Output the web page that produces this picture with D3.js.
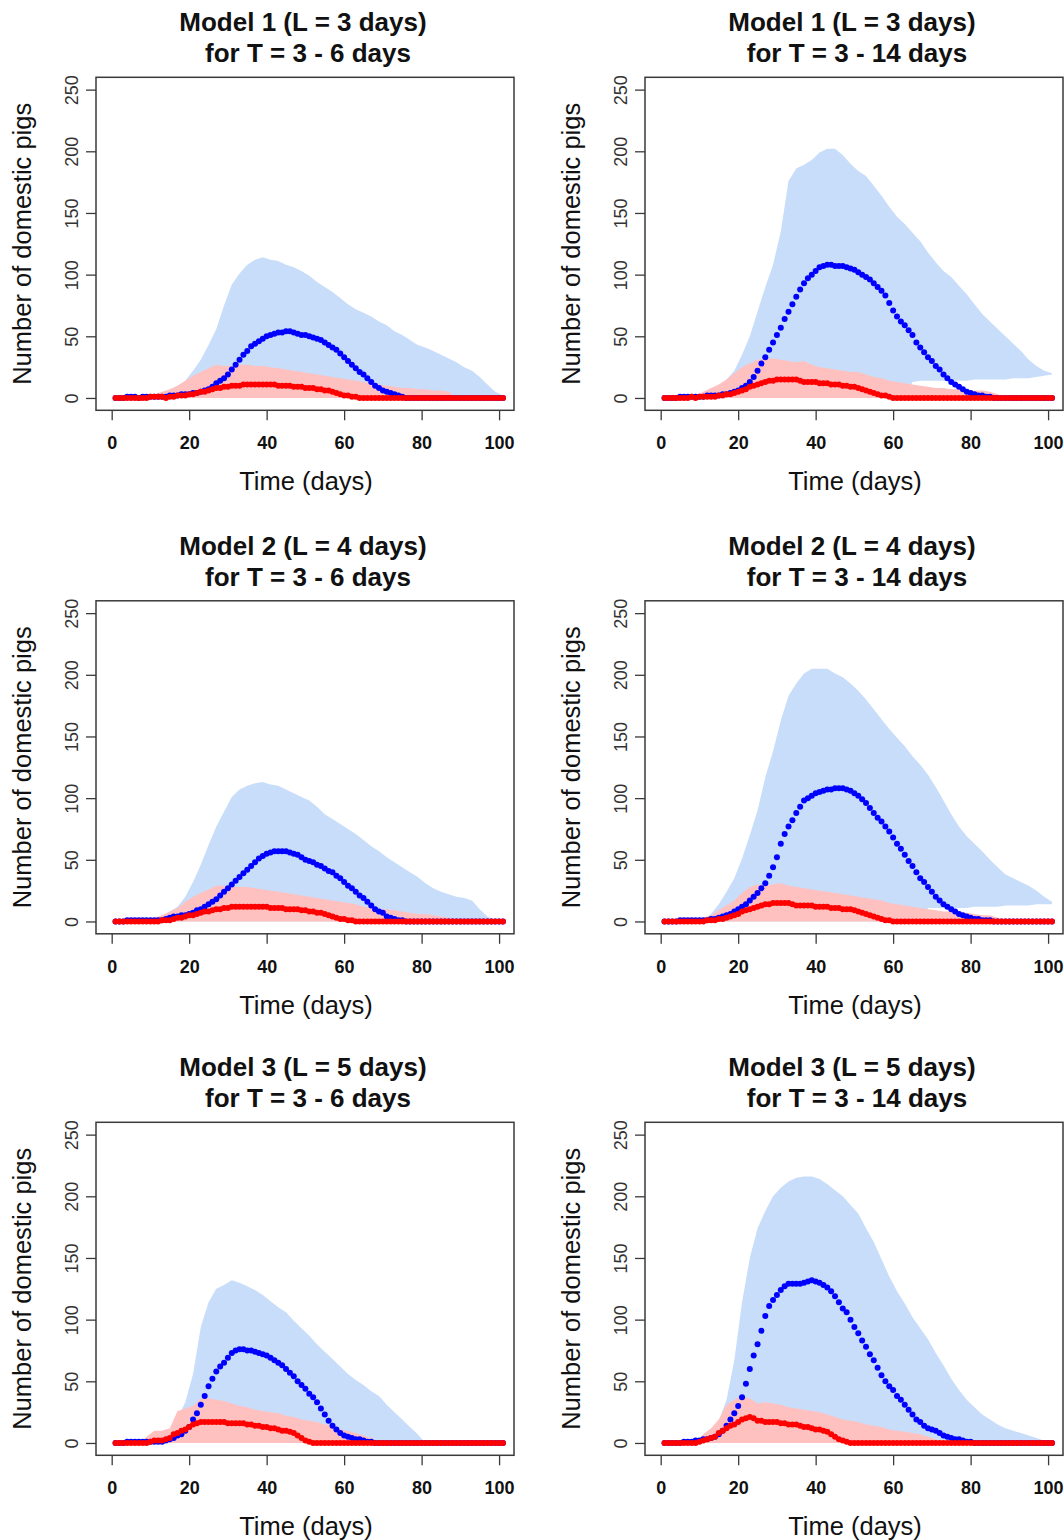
<!DOCTYPE html>
<html>
<head>
<meta charset="utf-8">
<script src="https://cdn.jsdelivr.net/npm/d3@7"></script>
<style>
  body { margin: 0; background: #fff; }
  svg { display: block; font-family: "Liberation Sans", Arial, sans-serif; }
</style>
</head>
<body>
<svg id="chart"></svg>
<script>
// one point per day, bands read every second day
const days = d3.range(1, 102);
const bandDays = d3.range(1, 102, 2);
const xTicks = [0, 20, 40, 60, 80, 100];
const yTicks = [0, 50, 100, 150, 200, 250];

const titles = [
  ["Model 1 (L = 3 days)", "for T = 3 - 6 days"],
  ["Model 1 (L = 3 days)", "for T = 3 - 14 days"],
  ["Model 2 (L = 4 days)", "for T = 3 - 6 days"],
  ["Model 2 (L = 4 days)", "for T = 3 - 14 days"],
  ["Model 3 (L = 5 days)", "for T = 3 - 6 days"],
  ["Model 3 (L = 5 days)", "for T = 3 - 14 days"]
];

// Model 1, T = 3 - 6
const blueMedian1 = [
  0,0,0,1,1,1,0,1,1,1, 1,1,1,1,2,2,2,3,3,3, 4,4,5,6,7,9,12,14,16,19,
  23,27,31,35,38,42,44,46,48,50, 51,52,53,53,54,54,53,52,51,51,
  50,49,48,47,45,43,41,39,36,33, 30,27,24,21,19,16,13,10,8,6,
  5,4,3,2,1,0,0,0,0,0, 0,0,0,0,0,0,0,0,0,0, 0,0,0,0,0,0,0,0,0,0, 0];
const redMedian1 = [
  0,0,0,0,0,0,0,0,0,1, 1,1,1,0,1,1,2,2,2,3, 3,4,5,5,6,7,8,8,9,9,
  10,10,10,11,11,11,11,11,11,11, 11,11,10,10,10,10,9,9,9,8,
  8,8,7,7,6,6,5,4,3,2, 2,1,1,0,0,0,0,0,0,0,
  0,0,0,0,0,0,0,0,0,0, 0,0,0,0,0,0,0,0,0,0, 0,0,0,0,0,0,0,0,0,0, 0];
const blueUpper1 = [
  0,0,0,0,0,0,3,6,10,14, 22,31,43,56,75,92,101,108,112,114,
  112,111,108,106,103,99,94,90,86,81, 76,72,69,66,62,59,54,51,47,43,
  41,38,35,32,29,25,22,17,11,5, 2];
const redUpper1 = [
  0,0,0,0,2,3,5,7,10,14, 18,21,24,27,26,26,27,27,26,26,
  25,24,23,22,21,20,19,18,17,16, 15,14,13,12,11,10,9,8,8,7,
  7,6,6,5,0,0,0,0,0,0, 0];

// Model 1, T = 3 - 14
const blueMedian2 = [
  0,0,0,0,1,1,1,1,1,1, 1,2,2,2,2,3,3,4,5,6, 8,10,13,17,22,28,33,39,45,51,
  57,64,70,76,82,88,93,97,100,103, 106,107,108,108,107,107,107,106,105,104,
  102,100,98,96,93,90,87,83,77,71, 66,62,59,55,51,45,41,37,33,30,
  26,23,19,16,13,11,9,7,5,4, 3,2,2,1,1,0,0,0,0,0, 0,0,0,0,0,0,0,0,0,0, 0];
const redMedian2 = [
  0,0,0,0,0,0,0,1,0,1, 1,1,1,1,2,2,3,3,4,5, 6,7,9,10,11,12,13,14,14,15,
  15,15,15,15,15,14,13,13,13,13, 12,12,12,11,11,11,10,10,9,9,
  8,7,6,5,4,3,2,2,1,0, 0,0,0,0,0,0,0,0,0,0,
  0,0,0,0,0,0,0,0,0,0, 0,0,0,0,0,0,0,0,0,0, 0,0,0,0,0,0,0,0,0,0, 0];
const blueUpper2 = [
  0,0,0,0,1,3,6,8,15,22, 35,50,70,90,108,135,176,186,189,193,
  199,202,202,197,190,184,180,172,164,155, 147,141,134,127,118,110,103,98,91,84,
  76,68,62,56,50,44,38,31,26,22, 20];
const blueLower2 = [
  0,0,0,0,0,0,0,0,0,0, 0,0,0,0,0,0,0,0,0,0, 0,0,0,0,0,0,0,0,0,0,
  0,0,13,14,14,14,14,14,14,14, 15,15,15,15,15,16,16,16,17,18, 19];
const redUpper2 = [
  0,0,0,0,2,5,8,11,15,20, 25,28,31,32,32,31,30,29,30,27,
  25,24,23,22,21,21,19,17,16,14, 13,12,11,10,9,8,8,7,7,6,
  6,6,5,3,0,0,0,0,0,0, 0];

// Model 2, T = 3 - 6
const blueMedian3 = [
  0,0,0,1,1,1,1,1,1,1, 1,1,1,2,3,4,4,5,5,6, 7,9,10,12,14,16,18,21,24,27,
  30,33,36,39,42,45,48,51,53,55, 56,57,57,57,57,56,55,54,52,50,
  49,48,46,45,43,41,40,37,35,32, 29,27,24,21,19,16,13,10,8,7,
  4,3,2,1,1,0,0,0,0,0, 0,0,0,0,0,0,0,0,0,0, 0,0,0,0,0,0,0,0,0,0, 0];
const redMedian3 = [
  0,0,0,0,0,0,0,0,0,0, 0,0,1,1,1,2,3,3,4,5, 5,6,7,8,8,9,10,10,11,11,
  12,12,12,12,12,12,12,12,12,12, 11,11,11,11,10,10,10,10,9,9,
  8,8,7,7,6,5,4,3,2,2, 1,1,0,0,0,0,0,0,0,0,
  0,0,0,0,0,0,0,0,0,0, 0,0,0,0,0,0,0,0,0,0, 0,0,0,0,0,0,0,0,0,0, 0];
const blueUpper3 = [
  0,0,0,0,1,2,4,8,12,20, 32,46,62,77,89,101,107,110,112,113,
  111,110,107,104,101,98,93,87,83,79, 75,71,66,61,57,52,48,44,40,36,
  31,27,24,22,20,19,17,10,4,1, 0];
const redUpper3 = [
  0,0,0,0,1,3,5,8,11,16, 20,23,26,29,29,28,28,28,27,26,
  25,24,23,22,21,20,19,18,17,16, 15,14,12,11,10,10,9,8,7,6,
  6,5,4,3,2,0,0,0,0,0, 0];

// Model 2, T = 3 - 14
const blueMedian4 = [
  0,0,0,0,1,1,1,1,1,1, 1,1,2,2,3,4,5,6,8,10, 12,14,17,20,23,27,31,37,44,52,
  63,71,77,82,88,93,98,100,102,104, 105,106,107,107,108,108,108,107,106,104,
  102,99,96,92,88,84,81,77,73,68, 63,59,54,49,45,40,35,32,28,24,
  20,17,14,12,10,8,6,5,4,3, 2,2,1,1,1,0,0,0,0,0, 0,0,0,0,0,0,0,0,0,0, 0];
const redMedian4 = [
  0,0,0,0,0,0,0,0,0,0, 0,1,1,1,2,2,3,4,5,6, 8,9,10,11,12,13,14,14,15,15,
  15,15,15,14,13,13,13,13,13,12, 12,12,12,11,11,11,10,10,10,9,
  8,7,6,5,4,3,2,1,1,0, 0,0,0,0,0,0,0,0,0,0,
  0,0,0,0,0,0,0,0,0,0, 0,0,0,0,0,0,0,0,0,0, 0,0,0,0,0,0,0,0,0,0, 0];
const blueUpper4 = [
  0,0,0,0,0,2,6,14,24,35, 51,70,90,117,138,163,183,193,201,205,
  205,205,201,198,193,187,180,172,164,156, 149,142,134,127,119,109,98,87,77,69,
  63,57,50,44,38,35,32,29,25,20, 16];
const blueLower4 = [
  0,0,0,0,0,0,0,0,0,0, 0,0,0,0,0,0,0,0,0,0, 0,0,0,0,0,0,0,0,0,0,
  0,0,0,0,11,11,11,11,11,11, 12,12,12,12,13,13,13,13,14,14, 14];
const redUpper4 = [
  0,0,0,0,1,3,5,9,13,17, 23,28,30,29,30,31,29,28,27,26,
  25,24,23,22,21,20,19,18,17,15, 14,13,12,11,10,9,8,8,7,7,
  6,5,5,3,0,0,0,0,0,0, 0];

// Model 3, T = 3 - 6
const blueMedian5 = [
  0,0,0,1,1,1,1,1,1,1, 1,1,1,2,3,4,6,7,10,13, 19,24,31,38,46,52,58,62,65,69,
  73,75,76,76,75,75,74,73,72,71, 69,67,65,63,60,57,54,50,47,44,
  40,37,33,28,23,18,14,11,8,6, 5,4,3,3,2,1,1,0,0,0,
  0,0,0,0,0,0,0,0,0,0, 0,0,0,0,0,0,0,0,0,0, 0,0,0,0,0,0,0,0,0,0, 0];
const redMedian5 = [
  0,0,0,0,0,0,0,0,0,1, 2,2,2,3,4,7,8,10,11,13, 15,16,17,17,17,17,17,17,17,16,
  16,16,16,16,15,15,14,14,13,13, 12,12,11,10,10,9,8,6,4,2,
  1,0,0,0,0,0,0,0,0,0, 0,0,0,0,0,0,0,0,0,0,
  0,0,0,0,0,0,0,0,0,0, 0,0,0,0,0,0,0,0,0,0, 0,0,0,0,0,0,0,0,0,0, 0];
const blueUpper5 = [
  0,0,0,0,0,1,3,6,20,33, 56,94,114,125,128,132,130,127,124,120,
  115,110,106,99,93,87,80,74,68,62, 56,51,47,42,38,31,25,19,13,7,
  0,0,0,0,0,0,0,0,0,0, 0];
const redUpper5 = [
  0,0,0,0,5,10,10,12,26,28, 30,36,36,35,34,32,30,29,27,26,
  25,24,22,21,19,18,17,15,14,11, 10,8,6,4,1,0,0,0,0,0,
  0,0,0,0,0,0,0,0,0,0, 0];

// Model 3, T = 3 - 14
const blueMedian6 = [
  0,0,0,0,0,1,1,1,2,2, 3,3,4,5,7,10,14,19,24,30, 37,48,60,71,80,91,103,111,116,120,
  124,127,129,129,129,129,130,131,132,131, 130,128,126,123,119,114,109,106,100,94,
  89,83,78,72,67,61,55,50,46,43, 38,35,31,27,23,19,17,14,12,11,
  10,8,6,5,4,3,3,2,1,1, 0,0,0,0,0,0,0,0,0,0, 0,0,0,0,0,0,0,0,0,0, 0];
const redMedian6 = [
  0,0,0,0,0,0,0,0,0,1, 2,3,4,5,8,10,12,14,15,17, 19,20,21,20,18,18,17,17,17,17,
  16,16,15,15,15,14,13,13,12,11, 11,10,9,7,5,3,2,1,0,0,
  0,0,0,0,0,0,0,0,0,0, 0,0,0,0,0,0,0,0,0,0,
  0,0,0,0,0,0,0,0,0,0, 0,0,0,0,0,0,0,0,0,0, 0,0,0,0,0,0,0,0,0,0, 0];
const blueUpper6 = [
  0,0,0,0,1,4,7,18,35,67, 114,150,174,188,200,207,212,215,216,216,
  214,210,205,200,193,186,174,163,149,135, 123,113,102,93,84,73,63,52,43,35,
  29,23,19,15,12,10,8,6,4,2, 1];
const redUpper6 = [
  0,0,0,0,1,7,12,19,31,35, 38,36,32,33,32,31,29,28,27,26,
  25,23,21,19,18,17,15,14,13,11, 10,9,8,7,5,3,0,0,0,0,
  0,0,0,0,0,0,0,0,0,0, 0];

const panels = [
  { title: titles[0], blueMed: blueMedian1, redMed: redMedian1, blueHi: blueUpper1, redHi: redUpper1, blueLo: null },
  { title: titles[1], blueMed: blueMedian2, redMed: redMedian2, blueHi: blueUpper2, redHi: redUpper2, blueLo: blueLower2 },
  { title: titles[2], blueMed: blueMedian3, redMed: redMedian3, blueHi: blueUpper3, redHi: redUpper3, blueLo: null },
  { title: titles[3], blueMed: blueMedian4, redMed: redMedian4, blueHi: blueUpper4, redHi: redUpper4, blueLo: blueLower4 },
  { title: titles[4], blueMed: blueMedian5, redMed: redMedian5, blueHi: blueUpper5, redHi: redUpper5, blueLo: null },
  { title: titles[5], blueMed: blueMedian6, redMed: redMedian6, blueHi: blueUpper6, redHi: redUpper6, blueLo: null }
];

const width = 1064, height = 1540;
const colX = [96, 645], rowY = [77.3, 600.8, 1122.3];
const boxW = 418, boxH = 333;
const ink = "#3a3a3a";

const svg = d3.select("#chart").attr("width", width).attr("height", height);

panels.forEach((p, i) => {
  const bx = colX[i % 2], by = rowY[Math.floor(i / 2)];
  const x = d3.scaleLinear().domain([-4.05, 103.85]).range([bx, bx + boxW]);
  const y = d3.scaleLinear().domain([-10, 260]).range([by + boxH, by]);
  const g = svg.append("g");

  const band = d3.area().x(d => x(d.day)).y0(d => y(d.lo)).y1(d => y(d.hi));
  const blueBand = bandDays.map((d, j) => ({ day: d, lo: p.blueLo ? p.blueLo[j] : 0, hi: p.blueHi[j] }));
  const redBand = bandDays.map((d, j) => ({ day: d, lo: 0, hi: p.redHi[j] }));

  g.append("path").datum(blueBand).attr("d", band).attr("fill", "#c8ddfa");
  g.append("path").datum(redBand).attr("d", band).attr("fill", "#ffc0c0");

  g.selectAll("circle.blue")
    .data(days)
    .join("circle")
    .attr("class", "blue")
    .attr("cx", d => x(d))
    .attr("cy", (d, j) => y(p.blueMed[j]))
    .attr("r", 3)
    .attr("fill", "#0000ff");

  g.selectAll("circle.red")
    .data(days)
    .join("circle")
    .attr("class", "red")
    .attr("cx", d => x(d))
    .attr("cy", (d, j) => y(p.redMed[j]))
    .attr("r", 3)
    .attr("fill", "#ff0000");

  // axes
  const xAxis = g.append("g")
    .attr("transform", `translate(0,${by + boxH})`)
    .call(d3.axisBottom(x).tickValues(xTicks).tickSize(10).tickSizeOuter(0));
  xAxis.attr("font-family", null).attr("font-size", 18);
  xAxis.select(".domain").remove();
  xAxis.selectAll("line").attr("stroke", ink).attr("stroke-width", 1.3);
  xAxis.selectAll("text")
    .attr("y", 39).attr("dy", null)
    .attr("font-weight", "bold")
    .attr("fill", "#111");

  const yAxis = g.append("g")
    .attr("transform", `translate(${bx},0)`)
    .call(d3.axisLeft(y).tickValues(yTicks).tickSize(10).tickSizeOuter(0));
  yAxis.attr("font-family", null).attr("font-size", 18);
  yAxis.select(".domain").remove();
  yAxis.selectAll("line").attr("stroke", ink).attr("stroke-width", 1.3);
  yAxis.selectAll("text")
    .attr("x", null).attr("dy", null)
    .attr("text-anchor", "middle")
    .attr("fill", "#333")
    .attr("transform", "translate(-18,0) rotate(-90)");

  g.append("rect")
    .attr("x", bx).attr("y", by)
    .attr("width", boxW).attr("height", boxH)
    .attr("fill", "none")
    .attr("stroke", ink)
    .attr("stroke-width", 1.5);

  // titles and labels
  g.append("text")
    .attr("x", bx + boxW / 2 - 2).attr("y", by - 46)
    .attr("text-anchor", "middle")
    .attr("font-size", 26).attr("font-weight", "bold")
    .attr("fill", "#111")
    .text(p.title[0]);
  g.append("text")
    .attr("x", bx + boxW / 2 + 3).attr("y", by - 15)
    .attr("text-anchor", "middle")
    .attr("font-size", 26).attr("font-weight", "bold")
    .attr("fill", "#111")
    .text(p.title[1]);

  g.append("text")
    .attr("transform", `translate(${bx - 65},${by + boxH / 2}) rotate(-90)`)
    .attr("text-anchor", "middle")
    .attr("font-size", 25.5)
    .attr("fill", "#111")
    .text("Number of domestic pigs");

  g.append("text")
    .attr("x", bx + boxW / 2 + 1).attr("y", by + boxH + 80)
    .attr("text-anchor", "middle")
    .attr("font-size", 25.5)
    .attr("fill", "#111")
    .text("Time (days)");
});
</script>
</body>
</html>
